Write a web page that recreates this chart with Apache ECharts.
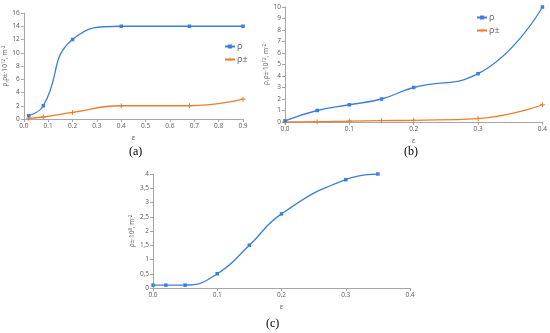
<!DOCTYPE html>
<html><head><meta charset="utf-8">
<script src="https://cdn.jsdelivr.net/npm/echarts@6/dist/echarts.min.js"></script>
<style>html,body{margin:0;padding:0;background:#fff}#c{width:550px;height:333px}</style>
</head><body><div id="c"></div>
<script>
// Panel (a)
const aEps = [0.02, 0.08, 0.2, 0.4, 0.68, 0.9];
const aRho = [0.5, 2, 12, 14, 14, 14];
const aRhoPM = [0.1, 0.3, 1, 2, 2, 3];
// Panel (b)
const bEps = [0, 0.05, 0.1, 0.15, 0.2, 0.3, 0.4];
const bRho = [0.1, 1, 1.5, 2, 3, 4.2, 10];
const bRhoPM = [0, 0.02, 0.08, 0.12, 0.15, 0.3, 1.5];
// Panel (c)
const cEps = [0, 0.02, 0.05, 0.1, 0.15, 0.2, 0.3, 0.35];
const cRho = [0.1, 0.1, 0.1, 0.5, 1.5, 2.6, 3.8, 4];

const pair = (xs, ys) => xs.map((x, i) => [x, ys[i]]);
const BLUE = '#3d7fd8', ORANGE = '#f07c2c';
const FONT = 'Open Sans';
const plus = 'path://M4,0H6V4H10V6H6V10H4V6H0V4H4Z';

function xAx(gi, max, interval, fmt) {
  return {
    type: 'value', gridIndex: gi, min: 0, max: max, interval: interval,
    name: 'ε', nameLocation: 'middle', nameGap: 15,
    nameTextStyle: {fontSize: 7, color: '#595959', fontFamily: FONT},
    axisLine: {show: true, lineStyle: {color: '#a6a6a6', width: 1}},
    axisTick: {show: true, length: 3, lineStyle: {color: '#a6a6a6'}},
    axisLabel: {fontSize: 6.5, color: '#595959', fontFamily: FONT, margin: 4,
      formatter: fmt || (v => v.toFixed(1))},
    splitLine: {show: false}
  };
}
function yAx(gi, max, interval, name, fmt) {
  return {
    type: 'value', gridIndex: gi, min: 0, max: max, interval: interval,
    name: name, nameLocation: 'middle', nameGap: 13, nameRotate: 90,
    nameTextStyle: {fontSize: 6.5, color: '#595959', fontFamily: FONT, rich: {
      sup: {fontSize: 4.5, verticalAlign: 'top', color: '#595959', padding: [0,0,3,0]}
    }},
    axisLine: {show: true, lineStyle: {color: '#a6a6a6', width: 1}},
    axisTick: {show: true, length: 3, lineStyle: {color: '#a6a6a6'}},
    axisLabel: {fontSize: 6.5, color: '#595959', fontFamily: FONT, margin: 4, formatter: fmt},
    splitLine: {show: false}
  };
}
function ser(name, xi, data, color, sym) {
  return {
    name: name, type: 'line', xAxisIndex: xi, yAxisIndex: xi, data: data,
    smooth: 0.5, symbol: sym, symbolSize: sym === 'rect' ? 3.5 : 5,
    lineStyle: {color: color, width: 1.3}, itemStyle: {color: color},
    showSymbol: true, z: sym === 'rect' ? 3 : 2
  };
}

const chart = echarts.init(document.getElementById('c'), null, {renderer: 'canvas'});
chart.setOption({
  animation: false,
  grid: [
    {left: 23, top: 13, width: 220, height: 106},
    {left: 285, top: 7, width: 258, height: 115},
    {left: 153, top: 174, width: 257, height: 114}
  ],
  xAxis: [
    xAx(0, 0.9, 0.1),
    xAx(1, 0.4, 0.1),
    xAx(2, 0.4, 0.1)
  ],
  yAxis: [
    yAx(0, 16, 2, 'ρ,ρ±·10{sup|12}, m{sup|-2}'),
    yAx(1, 10, 1, 'ρ,ρ±·10{sup|12}, m{sup|-2}'),
    yAx(2, 4, 0.5, 'ρ±·10{sup|8}, m{sup|-2}', v => String(v).replace('.', ','))
  ],
  legend: [
    {data: ['ρ', 'ρ± '], left: 219, top: 37, orient: 'vertical', itemGap: 4,
     itemWidth: 10, itemHeight: 5, textStyle: {fontSize: 9, color: '#595959', fontFamily: FONT, padding: [0,0,0,-3]}},
    {data: ['ρ ', 'ρ±'], left: 471, top: 8, orient: 'vertical', itemGap: 4,
     itemWidth: 10, itemHeight: 5, textStyle: {fontSize: 9, color: '#595959', fontFamily: FONT, padding: [0,0,0,-3]}}
  ],
  series: [
    ser('ρ', 0, pair(aEps, aRho), BLUE, 'rect'),
    ser('ρ± ', 0, pair(aEps, aRhoPM), ORANGE, plus),
    ser('ρ ', 1, pair(bEps, bRho), BLUE, 'rect'),
    ser('ρ±', 1, pair(bEps, bRhoPM), ORANGE, plus),
    ser('c', 2, pair(cEps, cRho), BLUE, 'rect')
  ],
  graphic: [
    {type: 'text', left: 129, top: 146, style: {text: '(a)', fontSize: 12, fontFamily: 'Liberation Serif', fill: '#000'}},
    {type: 'text', left: 404, top: 146, style: {text: '(b)', fontSize: 12, fontFamily: 'Liberation Serif', fill: '#000'}},
    {type: 'text', left: 266, top: 318, style: {text: '(c)', fontSize: 12, fontFamily: 'Liberation Serif', fill: '#000'}}
  ]
});
</script></body></html>
